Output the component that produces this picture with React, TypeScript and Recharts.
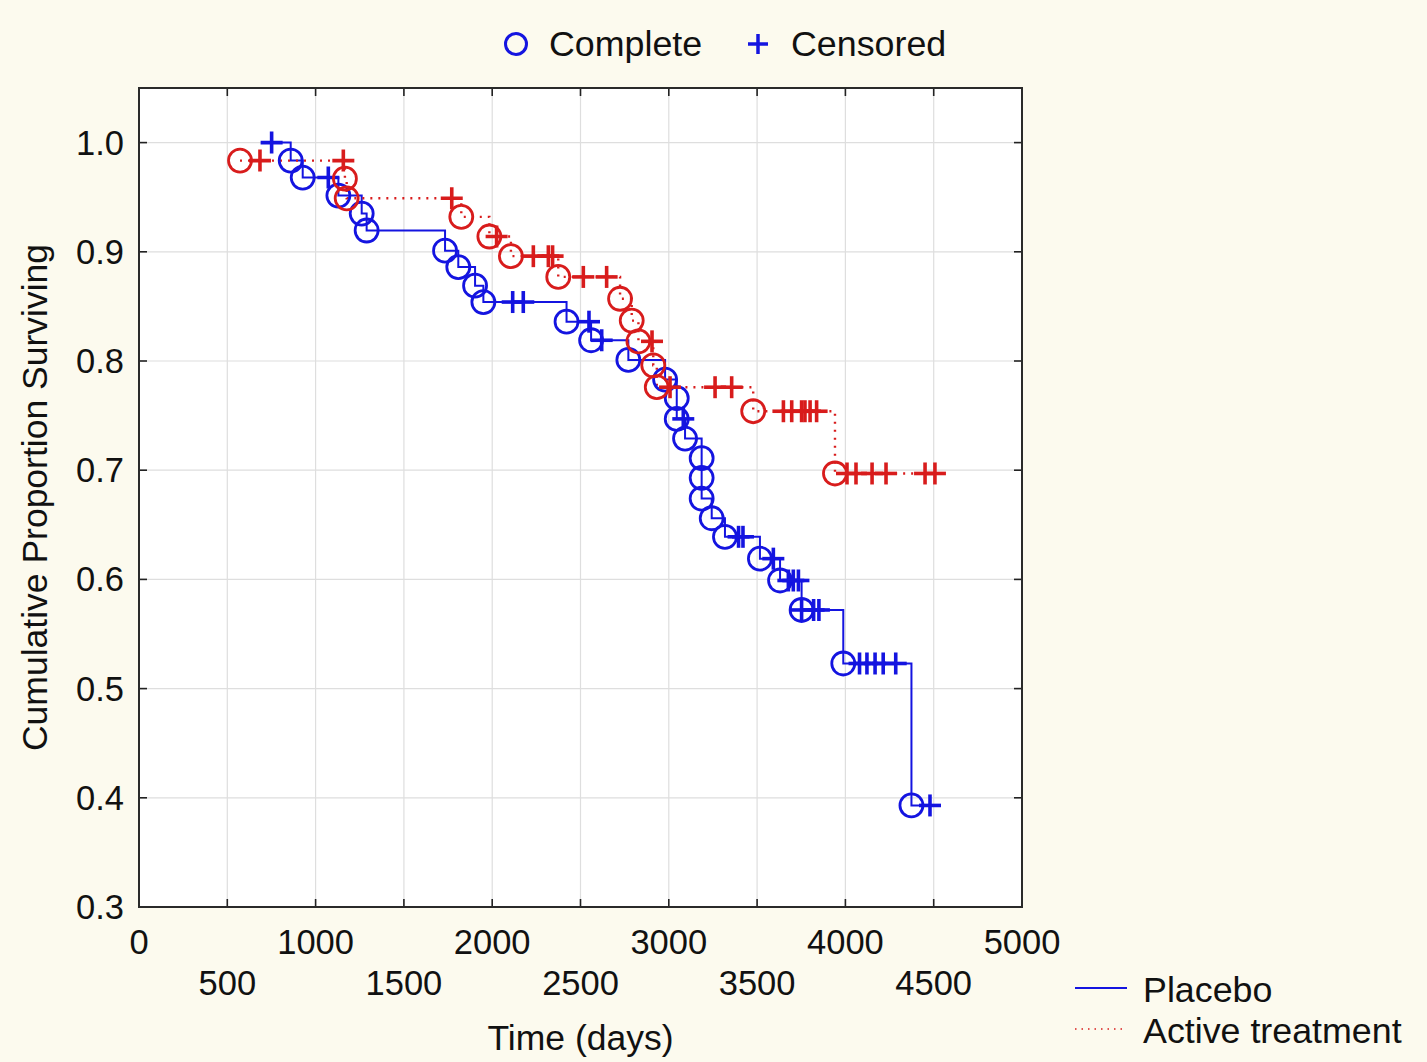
import React from "react";
import { ComposedChart, Line, Scatter, XAxis, YAxis, CartesianGrid } from "recharts";

// Placebo group: time (days), cumulative proportion surviving, status (1 = complete, 0 = censored)
const placeboTimes = [
  751, 859, 927, 1072, 1129, 1261, 1289, 1733, 1808, 1903, 1950, 2116, 2176, 2421, 2548, 2560, 2620,
  2771, 2979, 3045, 3045, 3082, 3092, 3186, 3186, 3186, 3243, 3318, 3395, 3420, 3516, 3592, 3630,
  3677, 3705, 3734, 3752, 3752, 3820, 3850, 3988, 4080, 4122, 4168, 4214, 4285, 4374, 4479,
];
const placeboSurvival = [
  1.0, 0.9835, 0.968, 0.968, 0.9515, 0.935, 0.9195, 0.901, 0.886, 0.869, 0.854, 0.854, 0.854, 0.836, 0.836, 0.819, 0.819,
  0.801, 0.783, 0.766, 0.747, 0.747, 0.729, 0.711, 0.693, 0.674, 0.656, 0.639, 0.639, 0.639, 0.619, 0.619, 0.599,
  0.599, 0.599, 0.599, 0.572, 0.572, 0.572, 0.572, 0.523, 0.523, 0.523, 0.523, 0.523, 0.523, 0.393, 0.393,
];
const placeboStatus = [
  0, 1, 1, 0, 1, 1, 1, 1, 1, 1, 1, 0, 0, 1, 0, 1, 0,
  1, 1, 1, 1, 0, 1, 1, 1, 1, 1, 1, 0, 0, 1, 0, 1,
  0, 0, 0, 1, 0, 0, 0, 1, 0, 0, 0, 0, 0, 1, 0,
];

// Active treatment group
const activeTimes = [
  572, 685, 1157, 1166, 1176, 1771, 1825, 1984, 2025, 2106, 2233, 2318, 2342, 2374, 2516, 2648,
  2724, 2790, 2828, 2905, 2912, 2932, 3007, 3262, 3356, 3478, 3649, 3696, 3752, 3771, 3800, 3837,
  3941, 4009, 4060, 4151, 4230, 4451, 4507,
];
const activeSurvival = [
  0.9835, 0.9835, 0.9835, 0.967, 0.949, 0.949, 0.932, 0.914, 0.914, 0.896, 0.896, 0.896, 0.896, 0.877, 0.877, 0.877,
  0.857, 0.837, 0.818, 0.818, 0.796, 0.776, 0.776, 0.776, 0.776, 0.754, 0.754, 0.754, 0.754, 0.754, 0.754, 0.754,
  0.697, 0.697, 0.697, 0.697, 0.697, 0.697, 0.697,
];
const activeStatus = [
  1, 0, 0, 1, 1, 0, 1, 1, 0, 1, 0, 0, 0, 1, 0, 0,
  1, 1, 1, 0, 1, 1, 0, 0, 0, 1, 0, 0, 0, 0, 0, 0,
  1, 0, 0, 0, 0, 0, 0,
];

const xTicks = [0, 500, 1000, 1500, 2000, 2500, 3000, 3500, 4000, 4500, 5000];
const yTicks = [0.3, 0.4, 0.5, 0.6, 0.7, 0.8, 0.9, 1.0];

const BLUE = "#1414e0";
const RED = "#d81c1c";
const FONT = '"Liberation Sans", Arial, Helvetica, sans-serif';
const W = 1427;
const H = 1062;
const PLOT = { left: 139, right: 1022, top: 88, bottom: 907 };

type Row = { t: number; s: number; status: number };

const rows = (times: number[], surv: number[], status: number[]): Row[] =>
  times.map((t, i) => ({ t, s: surv[i], status: status[i] }));

const placeboRows = rows(placeboTimes, placeboSurvival, placeboStatus);
const activeRows = rows(activeTimes, activeSurvival, activeStatus);

const circleShape = (color: string) => (props: any) =>
  <circle cx={props.cx} cy={props.cy} r={11.5} fill="none" stroke={color} strokeWidth={2.8} />;

const plusShape = (color: string) => (props: any) => {
  const { cx, cy } = props;
  return (
    <g stroke={color} strokeWidth={3.6}>
      <line x1={cx - 11} x2={cx + 11} y1={cy} y2={cy} />
      <line x1={cx} x2={cx} y1={cy - 11} y2={cy + 11} />
    </g>
  );
};

function XTick(props: any) {
  const { x, payload } = props;
  const upper = payload.value % 1000 === 0;
  return (
    <g>
      <line x1={x} x2={x} y1={PLOT.bottom} y2={PLOT.bottom - 8} stroke="#222" strokeWidth={1.6} />
      <line x1={x} x2={x} y1={PLOT.top} y2={PLOT.top + 8} stroke="#222" strokeWidth={1.6} />
      <text x={x} y={upper ? 942 : 983} textAnchor="middle" dominantBaseline="central"
        fontSize={34.5} fontFamily={FONT} fill="#111">
        {payload.value}
      </text>
    </g>
  );
}

function YTick(props: any) {
  const { y, payload } = props;
  return (
    <g>
      <line x1={PLOT.left} x2={PLOT.left + 8} y1={y} y2={y} stroke="#222" strokeWidth={1.6} />
      <line x1={PLOT.right} x2={PLOT.right - 8} y1={y} y2={y} stroke="#222" strokeWidth={1.6} />
      <text x={124} y={y} textAnchor="end" dominantBaseline="central"
        fontSize={34.5} fontFamily={FONT} fill="#111">
        {payload.value.toFixed(1)}
      </text>
    </g>
  );
}

export default function App() {
  return (
    <div style={{ position: "absolute", left: 0, top: 0, width: W, height: H, background: "#fcfaee" }}>
      <ComposedChart width={W} height={H} margin={{ top: PLOT.top, right: W - PLOT.right, bottom: 5, left: 9 }}>
        <CartesianGrid fill="#ffffff" stroke="#dedede" strokeWidth={1.2} />
        <XAxis type="number" dataKey="t" domain={[0, 5000]} ticks={xTicks} interval={0}
          axisLine={false} tickLine={false} tick={<XTick />} height={150} />
        <YAxis type="number" dataKey="s" domain={[0.3, 1.05]} ticks={yTicks} interval={0}
          axisLine={false} tickLine={false} tick={<YTick />} width={130} allowDataOverflow />
        <Line data={placeboRows} dataKey="s" type="stepAfter" stroke={BLUE} strokeWidth={2}
          dot={false} activeDot={false} isAnimationActive={false} />
        <Line data={activeRows} dataKey="s" type="stepAfter" stroke={RED} strokeWidth={2.4}
          strokeDasharray="2 6" dot={false} activeDot={false} isAnimationActive={false} />
        <Scatter data={placeboRows.filter((r) => r.status === 1)} dataKey="s"
          shape={circleShape(BLUE)} isAnimationActive={false} />
        <Scatter data={placeboRows.filter((r) => r.status === 0)} dataKey="s"
          shape={plusShape(BLUE)} isAnimationActive={false} />
        <Scatter data={activeRows.filter((r) => r.status === 1)} dataKey="s"
          shape={circleShape(RED)} isAnimationActive={false} />
        <Scatter data={activeRows.filter((r) => r.status === 0)} dataKey="s"
          shape={plusShape(RED)} isAnimationActive={false} />
      </ComposedChart>

      <svg width={W} height={H} style={{ position: "absolute", left: 0, top: 0, pointerEvents: "none" }}
        fontFamily={FONT} fill="#111">
        <rect x={PLOT.left} y={PLOT.top} width={PLOT.right - PLOT.left} height={PLOT.bottom - PLOT.top}
          fill="none" stroke="#2a2a2a" strokeWidth={2} />

        {/* top legend */}
        <circle cx={516} cy={44} r={10.5} fill="none" stroke={BLUE} strokeWidth={3} />
        <text x={549} y={44} fontSize={35.8} dominantBaseline="central">Complete</text>
        <g stroke={BLUE} strokeWidth={3.5}>
          <line x1={748} x2={768} y1={44} y2={44} />
          <line x1={758} x2={758} y1={34} y2={54} />
        </g>
        <text x={791} y={44} fontSize={35.8} dominantBaseline="central">Censored</text>

        {/* group legend */}
        <line x1={1075} x2={1127} y1={988} y2={988} stroke={BLUE} strokeWidth={2} />
        <text x={1143} y={990} fontSize={35.8} dominantBaseline="central">Placebo</text>
        <line x1={1075} x2={1127} y1={1029} y2={1029} stroke={RED} strokeWidth={1.6} strokeDasharray="1.5 5" />
        <text x={1143} y={1031} fontSize={35.8} dominantBaseline="central">Active treatment</text>

        {/* axis titles */}
        <text x={(PLOT.left + PLOT.right) / 2} y={1038} fontSize={35.5} textAnchor="middle"
          dominantBaseline="central">Time (days)</text>
        <text transform={`translate(47, ${(PLOT.top + PLOT.bottom) / 2}) rotate(-90)`} fontSize={35.5}
          textAnchor="middle">Cumulative Proportion Surviving</text>
      </svg>
    </div>
  );
}
